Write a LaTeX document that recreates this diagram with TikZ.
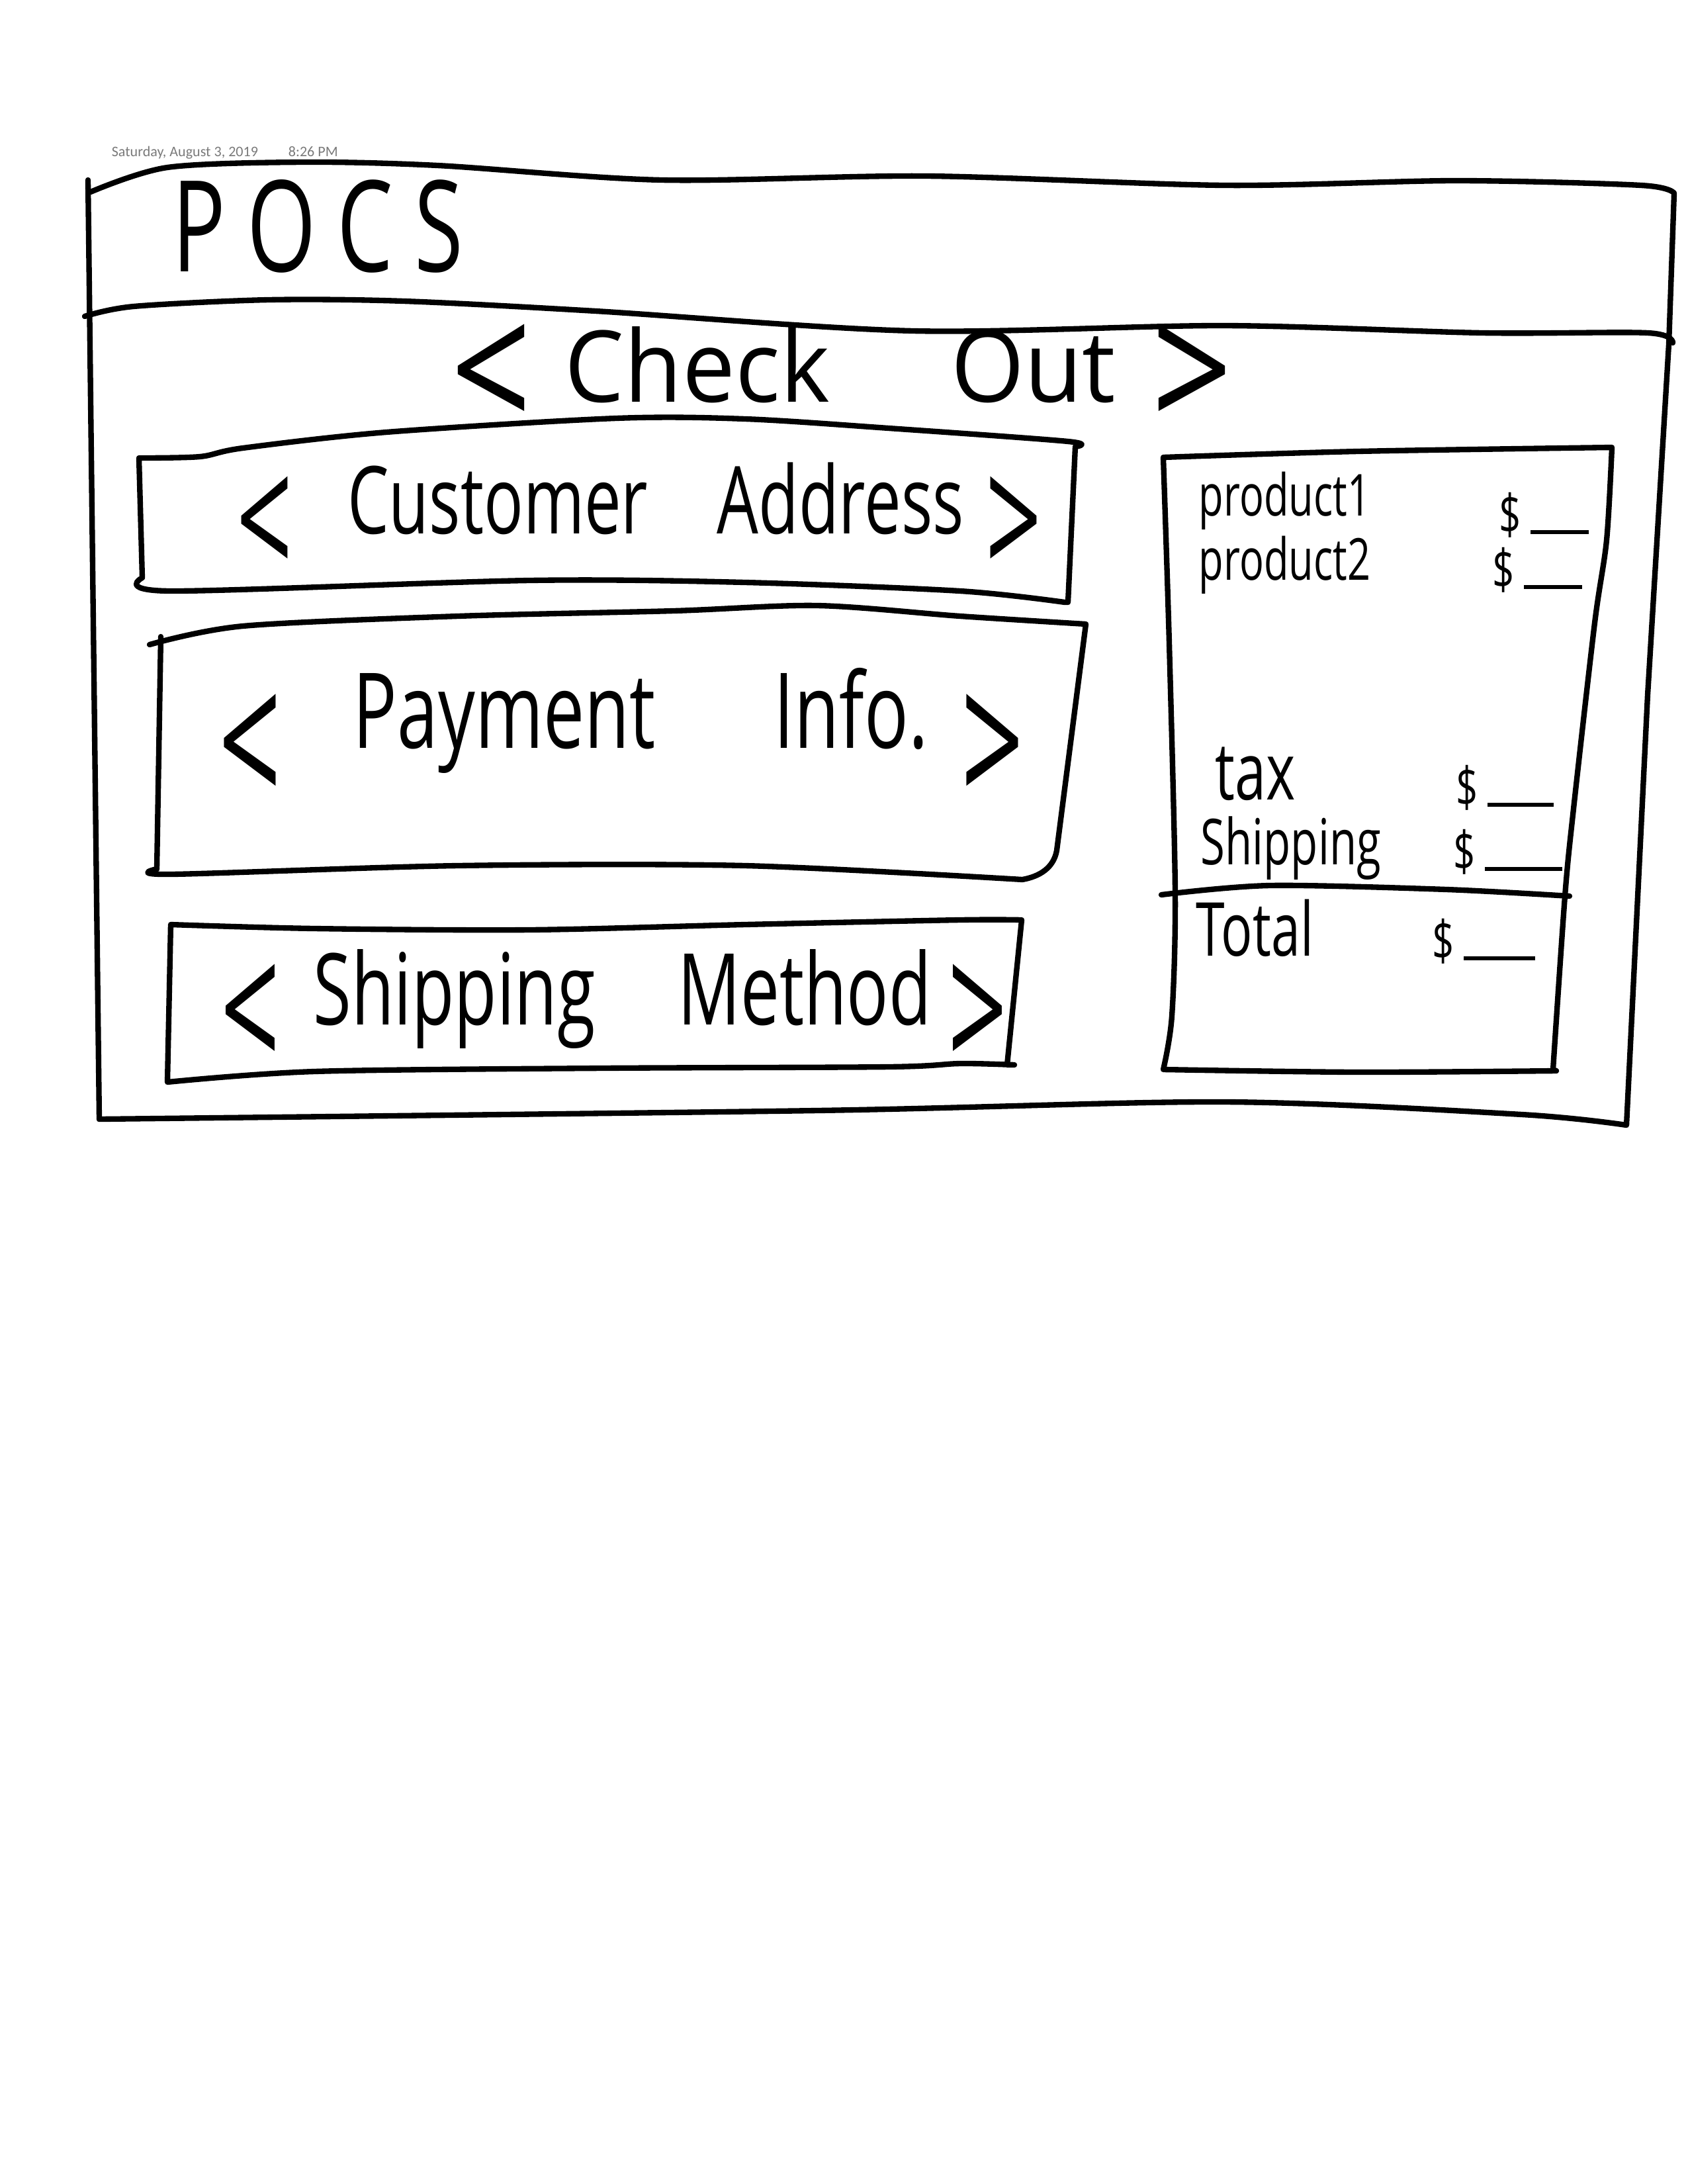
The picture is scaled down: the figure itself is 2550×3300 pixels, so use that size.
\documentclass[tikz,border=0pt]{standalone}
\usepackage{fontspec}
\usepackage{graphicx}
\newfontfamily\hand[FakeStretch=0.7]{Open Sans}
\newfontfamily\handwide[FakeStretch=0.95]{Open Sans}
\newfontfamily\stampfont{Carlito}
\definecolor{stampgray}{HTML}{7A7A7A}
\newcommand{\opena}[1][-0.48em]{\raisebox{#1}{\scalebox{1.5}[1.8]{<}}}
\newcommand{\closea}[1][-0.48em]{\raisebox{#1}{\scalebox{1.5}[1.8]{>}}}

\begin{document}
\begin{tikzpicture}[x=0.24pt,y=-0.24pt,
  pen/.style={line width=2pt,line cap=round,line join=round},
  heading/.style={font=\hand\fontsize{#1}{#1}\selectfont,inner sep=0pt,anchor=base},
  item/.style={font=\hand\fontsize{#1}{#1}\selectfont,inner sep=0pt,anchor=base west}]
\useasboundingbox (0,0) rectangle (2550,3300);
\node[font=\stampfont\fontsize{5.3}{6}\selectfont,text=stampgray,inner sep=0pt,anchor=base west] (stamp) at (168,236) {Saturday, August 3, 2019\hspace{11pt}8:26 PM};
% outer window
\draw[pen] plot[smooth] coordinates {(137,290) (253,253) (457,245) (661,250) (1000,272) (1400,266) (1850,280) (2200,273) (2480,280) (2530,292)}
  -- (2522,520) -- (2490,1050) -- (2458,1700)
  -- plot[smooth] coordinates {(2458,1700) (2300,1684) (1851,1665) (1235,1678) (150,1691)};
\draw[pen] (150,1691) -- (133,272);
\draw[pen] plot[smooth] coordinates {(128,478) (202,463) (406,453) (610,455) (900,470) (1380,500) (1850,492) (2240,503) (2490,503) (2528,518)};
\node[heading=46pt] (pocs) at (480,410) {P\,O\,C\,S};
\node[heading=36pt,font=\handwide\fontsize{36pt}{36pt}\selectfont] (checkout) at (1272,607) {\opena[-0.31em]\hspace{12pt}Check\hspace{44pt}Out\hspace{13pt}\closea[-0.31em]};
% left column
\draw[pen] plot[smooth] coordinates {(210,692) (302,690) (367,677) (584,653) (931,632) (1126,633) (1343,647) (1614,667) (1625,675)}
  -- (1614,910)
  -- plot[smooth] coordinates {(1609,910) (1451,893) (1126,880) (800,877) (258,893) (215,873)} -- cycle;
\node[heading=34pt] (address) at (966,806) {\opena\hspace{20pt}Customer\hspace{25pt}Address\hspace{8pt}\closea};
\draw[pen] plot[smooth] coordinates {(226,974) (367,946) (692,931) (1018,923) (1235,915) (1451,931) (1641,943)}
  -- (1597,1285) to[out=-100,in=10] (1545,1329)
  -- plot[smooth] coordinates {(1545,1329) (1126,1308) (692,1308) (258,1321) (237,1313)};
\draw[pen] (237,1313) -- (243,962);
\node[heading=38pt] (payment) at (939,1130) {\opena[-0.58em]\hspace{26pt}Payment\hspace{43pt}Info.\hspace{12pt}\closea[-0.58em]};
\draw[pen] plot[smooth] coordinates {(258,1397) (475,1403) (800,1405) (1126,1397) (1451,1390) (1544,1390)}
  -- (1522,1609)
  -- plot[smooth] coordinates {(1533,1609) (1451,1607) (1343,1612) (909,1614) (475,1619) (253,1635)} -- cycle;
\node[heading=36pt] (method) at (928,1548) {\opena\hspace{12pt}Shipping\hspace{30pt}Method\hspace{6pt}\closea};
% order summary
\draw[pen] plot[smooth] coordinates {(1758,691) (2052,682) (2436,676)}
  -- plot[smooth] coordinates {(2436,676) (2428,816) (2410,941) (2378,1222) (2365,1354) (2347,1616)}
  -- plot[smooth] coordinates {(2352,1618) (2050,1620) (1758,1616)}
  -- plot[smooth] coordinates {(1758,1616) (1771,1535) (1776,1348) (1767,972) (1758,691)};
\draw[pen] plot[smooth] coordinates {(1755,1352) (1919,1338) (2186,1344) (2372,1354)};
\node[item=21pt] (prod1) at (1811,779) {product1};
\node[item=20pt] (cost1) at (2265,807) {\$\,\rule{21pt}{1.4pt}};
\node[item=21pt] (prod2) at (1811,876) {product2};
\node[item=20pt] (cost2) at (2255,890) {\$\,\rule{21pt}{1.4pt}};
\node[item=29pt] (tax) at (1836,1208) {tax};
\node[item=20pt] (taxcost) at (2200,1219) {\$\,\rule{24pt}{1.4pt}};
\node[item=23pt] (shipping) at (1814,1306) {Shipping};
\node[item=20pt] (shipcost) at (2196,1316) {\$\,\rule{28pt}{1.4pt}};
\node[item=27pt] (total) at (1807,1444) {Total};
\node[item=20pt] (totalcost) at (2164,1451) {\$\,\rule{26pt}{1.4pt}};
\end{tikzpicture}
\end{document}
